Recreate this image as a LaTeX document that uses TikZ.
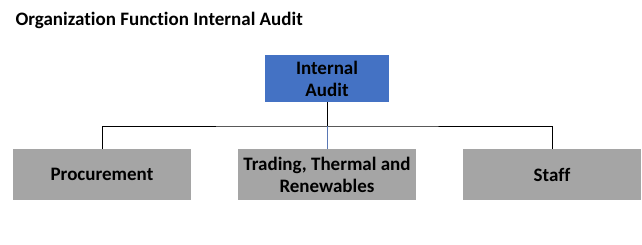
\documentclass[tikz,border=0pt]{standalone}
\usepackage{fontspec}
\setmainfont{Carlito}[Ligatures=NoCommon]
\definecolor{ablue}{RGB}{68,114,196}
\definecolor{agrey}{RGB}{165,165,165}
\definecolor{lblue}{RGB}{90,120,180}
\tikzset{orgchart/.style={x=1pt,y=-1pt,font=\bfseries\fontsize{19}{22}\selectfont},
  topbox/.style={fill=ablue,minimum width=124pt,minimum height=47pt,inner sep=0pt,align=center},
  unitbox/.style={fill=agrey,minimum width=178pt,minimum height=51pt,inner sep=0pt,align=center},
  link/.style={black,line width=1pt}}

\begin{document}
\begin{tikzpicture}[orgchart]
    \useasboundingbox (0,0) rectangle (642,244);
    \node[anchor=base west] (title) at (12,25) {Organization Function Internal Audit};
    \node[topbox] (ia) at (327,78.5) {Internal\\Audit};
    \node[unitbox] (proc) at (102,174.5) {Procurement};
    \node[unitbox] (trade) at (327,174.5) {Trading, Thermal and\\Renewables};
    \node[unitbox] (staff) at (552,174.5) {Staff};
    \coordinate (bar) at (327,126);
    \draw[link] (ia.south) -- (bar);
    \draw[link] (proc.north) |- (bar) -| (staff.north);
    \draw[lblue,line width=0.8pt] (bar) -- (trade.north);   % thin drop
\end{tikzpicture}
\end{document}
